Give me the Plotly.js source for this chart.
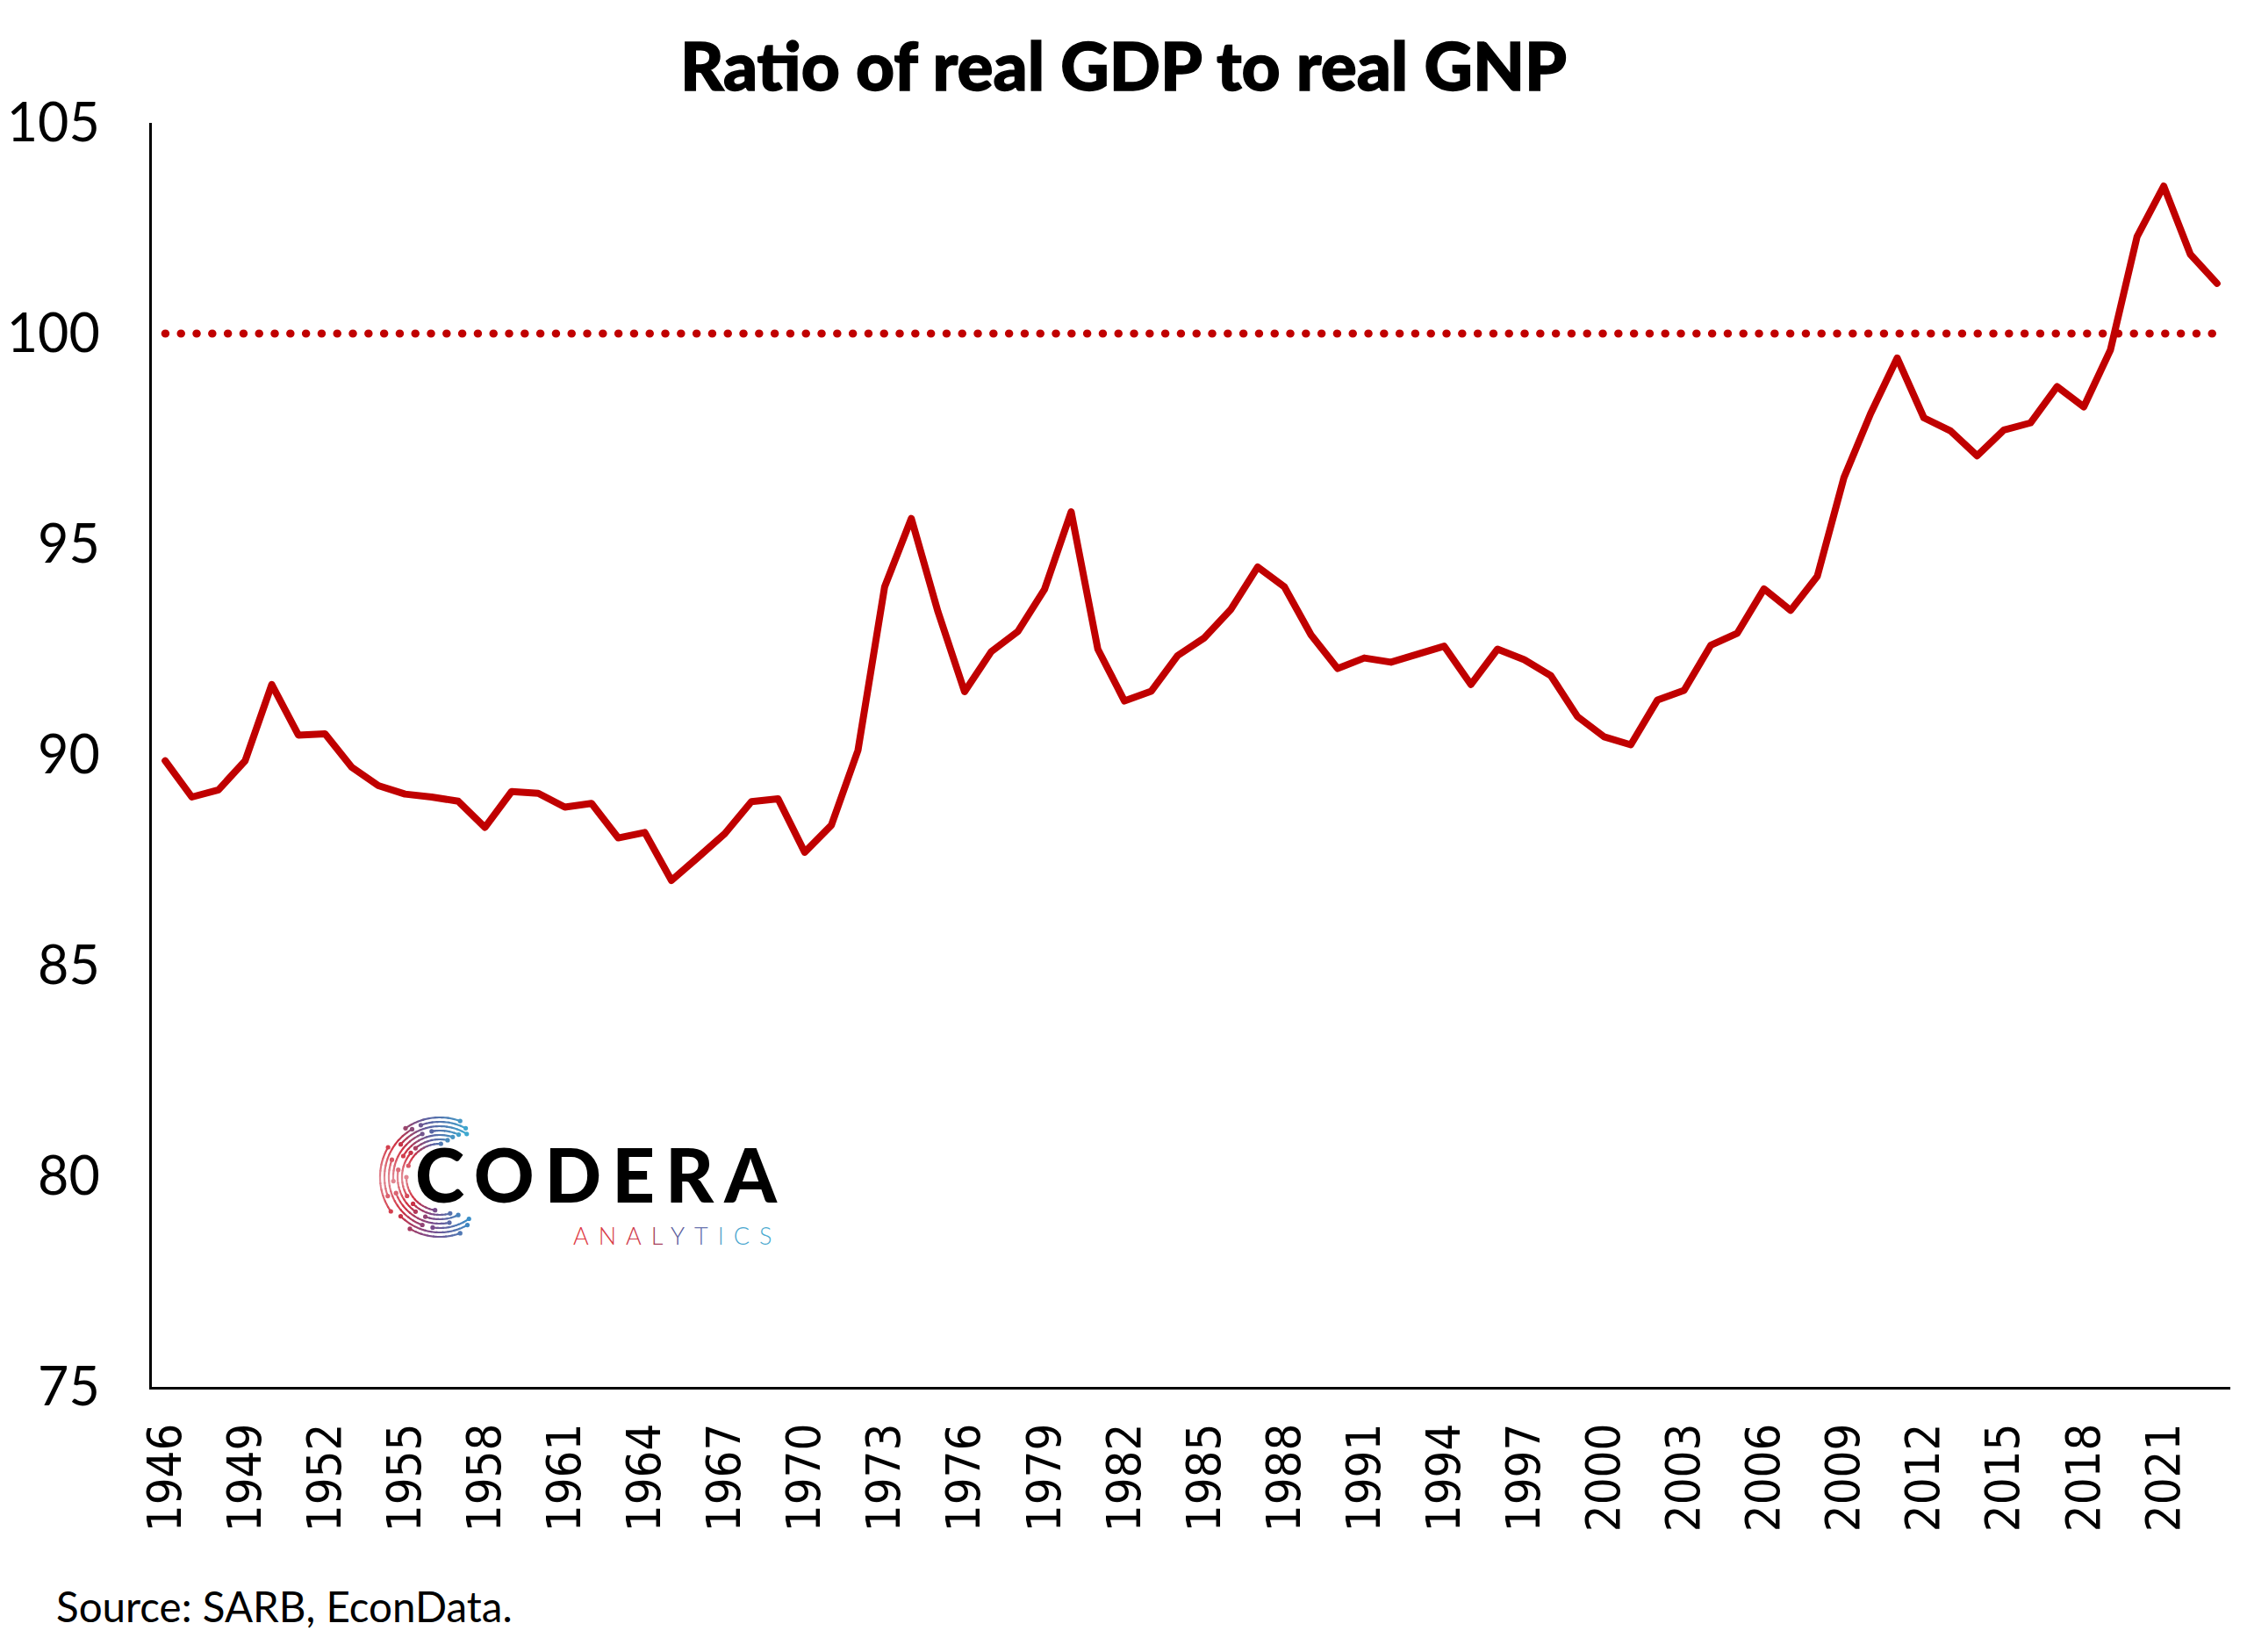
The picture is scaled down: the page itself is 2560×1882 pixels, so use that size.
<!DOCTYPE html>
<html>
<head>
<meta charset="utf-8">
<script src="https://cdn.plot.ly/plotly-3.0.1.min.js"></script>
<style>
  html, body { margin: 0; padding: 0; background: #ffffff; }
  #chart { width: 2560px; height: 1882px; }
  .js-plotly-plot .scatterlayer path.js-line { stroke-linejoin: round; stroke-linecap: round; }
  .js-plotly-plot .shapelayer path { stroke-linecap: round; }
  .js-plotly-plot .gtitle { stroke: #000000; stroke-width: 1.4px; }
</style>
</head>
<body>
<div id="chart"></div>
<script>
// Annual observations, 1946-2023
const years = [
  1946, 1947, 1948, 1949, 1950, 1951, 1952, 1953, 1954, 1955,
  1956, 1957, 1958, 1959, 1960, 1961, 1962, 1963, 1964, 1965,
  1966, 1967, 1968, 1969, 1970, 1971, 1972, 1973, 1974, 1975,
  1976, 1977, 1978, 1979, 1980, 1981, 1982, 1983, 1984, 1985,
  1986, 1987, 1988, 1989, 1990, 1991, 1992, 1993, 1994, 1995,
  1996, 1997, 1998, 1999, 2000, 2001, 2002, 2003, 2004, 2005,
  2006, 2007, 2008, 2009, 2010, 2011, 2012, 2013, 2014, 2015,
  2016, 2017, 2018, 2019, 2020, 2021, 2022, 2023
];

// Real GDP as a percentage of real GNP
const gdpToGnp = [
  89.86, 89.00, 89.17, 89.86, 91.67, 90.47, 90.50, 89.71, 89.27, 89.07,
  89.00, 88.90, 88.28, 89.13, 89.09, 88.76, 88.85, 88.03, 88.16, 87.02,
  87.57, 88.13, 88.89, 88.96, 87.69, 88.33, 90.11, 93.99, 95.61, 93.40,
  91.50, 92.45, 92.93, 93.93, 95.77, 92.51, 91.28, 91.51, 92.36, 92.78,
  93.46, 94.46, 93.99, 92.85, 92.05, 92.30, 92.20, 92.40, 92.58, 91.67,
  92.51, 92.26, 91.88, 90.91, 90.43, 90.24, 91.30, 91.53, 92.60, 92.89,
  93.94, 93.43, 94.24, 96.58, 98.10, 99.42, 98.00, 97.69, 97.10, 97.71,
  97.88, 98.74, 98.26, 99.61, 102.30, 103.50, 101.88, 101.19
];

// Year labels shown on the horizontal axis
const tickYears = [
  1946, 1949, 1952, 1955, 1958, 1961, 1964, 1967, 1970, 1973,
  1976, 1979, 1982, 1985, 1988, 1991, 1994, 1997, 2000, 2003,
  2006, 2009, 2012, 2015, 2018, 2021
];

// Vertical axis labels
const valueTicks = [75, 80, 85, 90, 95, 100, 105];

// GDP equal to GNP
const parityLevel = 100;

const chartTitle = 'Ratio of real GDP to real GNP';
const sourceNote = 'Source: SARB, EconData.';
const brandName = 'CODERA';
const brandTag = ['A', 'N', 'A', 'L', 'Y', 'T', 'I', 'C', 'S'];
const brandTagColors = ['#de3a44', '#d83a46', '#cf3c4c', '#a8405c', '#5c5d9c', '#6a74ae', '#58a4cc', '#4aa6cf', '#49a9cf'];

// ---- page geometry (pixels) ----
const W = 2560, H = 1882;
const M = { l: 173, r: 19, t: 140, b: 302 };
const plotW = W - M.l - M.r;
const plotH = H - M.t - M.b;
const px = X => (X - M.l) / plotW;           // page x -> paper x
const py = Y => (H - M.b - Y) / plotH;       // page y -> paper y

const RED = '#C00000';

const annotations = [];

// ---- logo: lettering ----
annotations.push({
  xref: 'paper', yref: 'paper', x: px(472), y: py(1337),
  xanchor: 'left', yanchor: 'middle', showarrow: false, borderpad: 0,
  text: '<span style="letter-spacing:12px">' + brandName + '</span>',
  font: { family: 'Lato', size: 85, color: '#000000', weight: 900 }
});
annotations.push({
  xref: 'paper', yref: 'paper', x: px(652), y: py(1407),
  xanchor: 'left', yanchor: 'middle', showarrow: false, borderpad: 0,
  text: brandTag.map((ch, i) =>
    '<span style="color:' + brandTagColors[i] + ';letter-spacing:11px">' + ch + '</span>').join(''),
  font: { family: 'Lato', size: 27, color: '#de3a44', weight: 300 }
});

// source note
annotations.push({
  xref: 'paper', yref: 'paper', x: px(62), y: py(1829),
  xanchor: 'left', yanchor: 'middle', showarrow: false, text: sourceNote,
  font: { family: 'Lato', size: 47.5, color: '#000000' }
});

// ---- logo: circuit ring ----
const ringCx = 501, ringCy = 1341;
const stops = [
  [0.00, [63, 169, 208]],
  [0.18, [92, 95, 160]],
  [0.34, [208, 48, 64]],
  [0.50, [226, 140, 150]],
  [0.66, [208, 48, 64]],
  [0.82, [122, 74, 138]],
  [1.00, [58, 143, 200]]
];
function ringColor(deg) {
  const u = Math.min(1, Math.max(0, (deg + 60) / -245));
  for (let k = 1; k < stops.length; k++) {
    if (u <= stops[k][0]) {
      const a = stops[k - 1], b = stops[k];
      const f = (u - a[0]) / (b[0] - a[0]);
      const c = a[1].map((v, j) => Math.round(v + (b[1][j] - v) * f));
      return 'rgb(' + c.join(',') + ')';
    }
  }
  return 'rgb(58,143,200)';
}
const ringArcs = [
  [68, -70, -125], [68, -150, -215], [68, -240, -290],
  [63, -62, -110], [63, -120, -200], [63, -225, -300],
  [58, -58, -140], [58, -160, -250], [58, -262, -305],
  [53, -66, -100], [53, -112, -185], [53, -200, -282],
  [48, -72, -150], [48, -170, -235], [48, -250, -296],
  [43, -78, -130], [43, -140, -210], [43, -225, -286],
  [38, -88, -160], [38, -180, -262]
];
const shapes = [];
const rad = d => d * Math.PI / 180;
ringArcs.forEach(([r, a0, a1]) => {
  const step = -6;
  for (let a = a0; a > a1; a += step) {
    const b = Math.max(a + step, a1);
    const p = [];
    for (let t = a; t >= b - 0.01; t -= 1.5) {
      const X = ringCx + r * Math.cos(rad(t));
      const Y = ringCy + r * Math.sin(rad(t));
      p.push(px(X).toFixed(6) + ',' + py(Y).toFixed(6));
    }
    shapes.push({
      type: 'path', xref: 'paper', yref: 'paper', layer: 'above',
      path: 'M' + p.join('L'),
      line: { color: ringColor((a + b) / 2), width: 2.2 }
    });
  }
  [a0, a1].forEach(t => {
    const X = ringCx + r * Math.cos(rad(t));
    const Y = ringCy + r * Math.sin(rad(t));
    shapes.push({
      type: 'circle', xref: 'paper', yref: 'paper',
      x0: px(X - 2.6), x1: px(X + 2.6), y0: py(Y + 2.6), y1: py(Y - 2.6),
      fillcolor: ringColor(t), line: { width: 0 }
    });
  });
});

// parity reference line
shapes.push({
  type: 'line', xref: 'x', yref: 'y', layer: 'below',
  x0: years[0], x1: years[years.length - 1], y0: parityLevel, y1: parityLevel,
  line: { color: RED, width: 9, dash: '0.5px,17.3px' }
});

const trace = {
  type: 'scatter', mode: 'lines', x: years, y: gdpToGnp,
  line: { color: RED, width: 8 }, hoverinfo: 'x+y'
};

const layout = {
  width: W, height: H,
  margin: M,
  paper_bgcolor: '#ffffff', plot_bgcolor: '#ffffff',
  showlegend: false,
  title: {
    text: chartTitle, xref: 'paper', x: px(1280), xanchor: 'center',
    yref: 'container', y: 1 - 76 / H, yanchor: 'middle',
    font: { family: 'Lato', size: 76.5, color: '#000000', weight: 900 }
  },
  xaxis: {
    type: 'linear', range: [years[0] - 0.5, years[years.length - 1] + 0.5],
    tickmode: 'array', tickvals: tickYears, ticktext: tickYears.map(String),
    tickangle: -90, ticks: '', ticklabelstandoff: 17,
    showline: true, linecolor: '#000000', linewidth: 3,
    showgrid: false, zeroline: false, fixedrange: true,
    tickfont: { family: 'DejaVu Sans Condensed, DejaVu Sans', size: 54, color: '#000000' }
  },
  yaxis: {
    range: [75, 105], tickmode: 'array', tickvals: valueTicks,
    ticks: '', ticklabelstandoff: 44,
    showline: true, linecolor: '#000000', linewidth: 3,
    showgrid: false, zeroline: false, fixedrange: true,
    tickfont: { family: 'Lato', size: 61, color: '#000000' }
  },
  shapes: shapes,
  annotations: annotations
};

Plotly.newPlot('chart', [trace], layout, { displayModeBar: false, staticPlot: true });
</script>
</body>
</html>
